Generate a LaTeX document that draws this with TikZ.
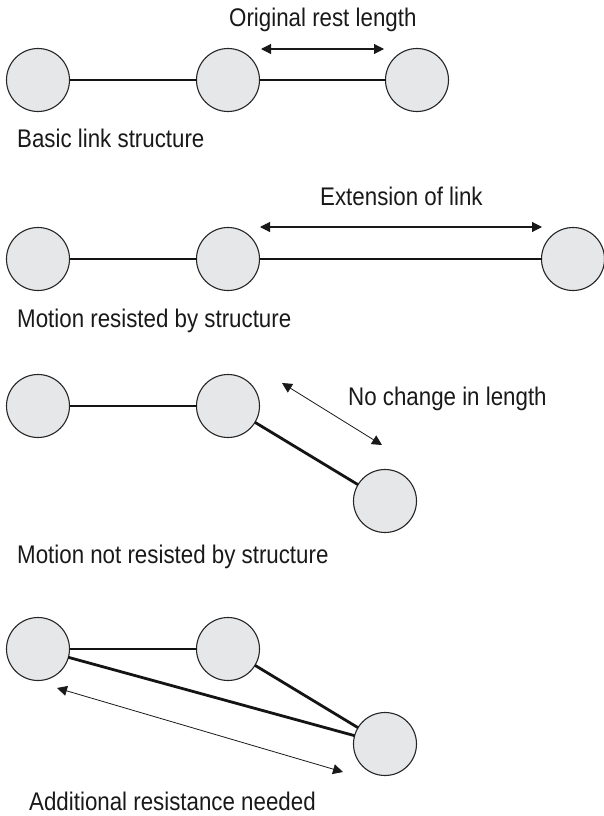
\documentclass[tikz,border=0pt]{standalone}
\usepackage{fontspec}
\setmainfont{Liberation Sans}[FakeStretch=0.875]
\usetikzlibrary{
	arrows.meta,
	positioning
}
\definecolor{BallGray}{RGB}{230,231,233}

\tikzset{
	ball/.style={circle, draw=black!85, line width=1.1pt, fill=BallGray, minimum size=63pt, inner sep=0pt, outer sep=0pt},
	link/.style={line width=2.8pt, black!92},
	measure/.style={{Triangle[length=10pt,width=10pt]}-{Triangle[length=10pt,width=10pt]}, line width=1.1pt, black!90},
	caption/.style={anchor=base west, inner sep=0pt, font=\fontsize{25.5}{30}\selectfont, text=black!90}
}

\begin{document}
\begin{tikzpicture}[x=1pt, y=-1pt]
		\useasboundingbox (0,0) rectangle (604,816);
		
		% 基本链接结构
		\node[ball] (a1) at (38,80) {};
		\node[ball] (a2) at (228,80) {};
		\node[ball] (a3) at (417,80) {};
		\draw[link] (a1) -- (a2);
		\draw[link] (a2) -- (a3);
		\coordinate (ra) at (261,49);
		\coordinate (rb) at (384,49);
		\draw[measure] (ra) -- (rb);
		\node[caption] (trest) at (229,27) {Original rest length};
		\node[caption] (tbasic) at (17,147) {Basic link structure};
		
		% 拉伸
		\node[ball] (b1) at (38,259) {};
		\node[ball] (b2) at (228,259) {};
		\node[ball] (b3) at (573,259) {};
		\draw[link] (b1) -- (b2);
		\draw[link] (b2) -- (b3);
		\coordinate (ea) at (260,227);
		\coordinate (eb) at (542,227);
		\draw[measure] (ea) -- (eb);
		\node[caption] (text) at (320,205) {Extension of link};
		\node[caption] (tres) at (17,327) {Motion resisted by structure};
		
		% 转动，长度不变
		\node[ball] (c1) at (38,406) {};
		\node[ball] (c2) at (228,406) {};
		\node[ball] (c3) at (385,501) {};
		\draw[link] (c1) -- (c2);
		\draw[link] (c2) -- (c3);
		\coordinate (na) at (282,383);
		\coordinate (nb) at (382,445);
		\draw[measure, line width=0.8pt] (na) -- (nb);
		\node[caption] (tnochg) at (348,405) {No change in length};
		\node[caption] (tnot) at (17,563) {Motion not resisted by structure};
		
		% 附加对角链接
		\node[ball] (d1) at (38,649) {};
		\node[ball] (d2) at (228,649) {};
		\node[ball] (d3) at (385,744) {};
		\draw[link] (d1) -- (d2);
		\draw[link] (d2) -- (d3);
		\draw[link] (d1) -- (d3);
		\coordinate (da) at (57,688);
		\coordinate (db) at (343,772);
		\draw[measure, line width=0.8pt] (da) -- (db);
		\node[caption] (tadd) at (29,810) {Additional resistance needed};
	\end{tikzpicture}
\end{document}
